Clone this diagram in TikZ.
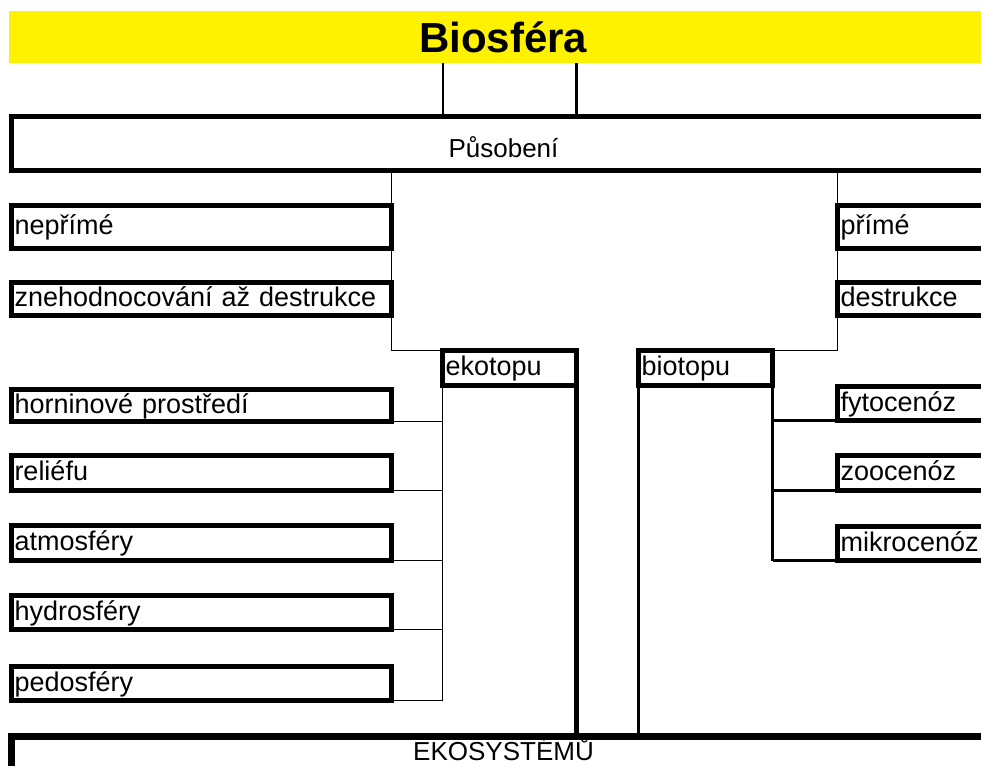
\documentclass[tikz,border=0pt]{standalone}
\usepackage{fontspec}
\setmainfont{Liberation Sans}

\begin{document}
\begin{tikzpicture}[
    x=1pt, y=-1pt,
    box/.style={draw, line width=5pt, outer sep=0pt, inner xsep=3pt, inner ysep=0pt,
      anchor=north west, text height=20pt, text depth=5pt,
      font=\fontsize{27}{30}\selectfont},
    leaf/.style={box, text width=374pt, align=left, minimum height=#1},
    twig/.style={box, text width=294pt, align=left, minimum height=#1},
    cell/.style={box, line width=4.5pt, text width=128pt, align=left, minimum height=35pt},
    wire/.style={line width=1.5pt},
    heavy/.style={line width=2.5pt}
  ]
  \useasboundingbox (0,0) rectangle (981,765);
  \clip (0,0) rectangle (981,765);

  \node (title) [fill=yellow, anchor=north west, minimum width=988pt, minimum height=52pt,
    inner sep=0pt, font=\fontsize{42}{46}\selectfont\bfseries] at (9,11) {Biosféra};
  \node (pusobeni) [box, minimum width=984pt, minimum height=54pt, text height=30pt,
    text depth=3pt, font=\fontsize{26}{30}\selectfont] at (11.5,116.5) {Působení};

  \node (neprime) [leaf=43pt] at (11.5,205.5) {nepřímé};
  \node (znehod) [leaf=33pt] at (11.5,282.5) {znehodnocování až destrukce};
  \node (horninove) [leaf=32pt] at (11.5,389.5) {horninové prostředí};
  \node (reliefu) [leaf=35pt] at (11.5,455.5) {reliéfu};
  \node (atmosfery) [leaf=35pt] at (11.5,525.5) {atmosféry};
  \node (hydrosfery) [leaf=34pt] at (11.5,595.5) {hydrosféry};
  \node (pedosfery) [leaf=34pt] at (11.5,666.5) {pedosféry};

  \node (prime) [twig=43pt] at (837.5,205.5) {přímé};
  \node (destrukce) [twig=33pt] at (837.5,282.5) {destrukce};
  \node (fytocenoz) [twig=34pt] at (837.5,386.5) {fytocenóz};
  \node (zoocenoz) [twig=35pt] at (837.5,455.5) {zoocenóz};
  \node (mikrocenoz) [twig=34pt] at (837.5,526.5) {mikrocenóz};

  \node (ekotopu) [cell] at (442.5,350.5) {ekotopu};
  \node (biotopu) [cell] at (638.5,350.5) {biotopu};

  \node (ekosystemu) [box, line width=7pt, minimum width=984pt, minimum height=44pt,
    text height=8pt, text depth=4pt, font=\fontsize{26}{30}\selectfont] at (11.5,736) {EKOSYSTÉMŮ};

  \draw[line width=2pt] (ekotopu.north west |- title.south) -- (ekotopu.north west |- pusobeni.north);
  \draw[line width=3pt] (ekotopu.north east |- title.south) -- (ekotopu.north east |- pusobeni.north);

  \draw[wire] (pusobeni.south -| neprime.east) |- (ekotopu.north west);
  \draw[wire] (pusobeni.south -| prime.west) |- (biotopu.north east);

  \draw[wire] (ekotopu.south west) -- (ekotopu.south west |- pedosfery.south east);
  \foreach \n in {horninove, reliefu, atmosfery, hydrosfery, pedosfery}
    \draw[wire] (\n.south east) -- (\n.south east -| ekotopu.west);
  \draw[line width=4.5pt] (ekotopu.south east) -- (ekotopu.south east |- ekosystemu.north);

  \draw[line width=3pt] (biotopu.south west) -- (biotopu.south west |- ekosystemu.north);
  \draw[heavy] (biotopu.south east) -- (biotopu.south east |- mikrocenoz.south west);
  \foreach \n in {fytocenoz, zoocenoz, mikrocenoz}
    \draw[heavy] (\n.south west) -- (\n.south west -| biotopu.east);
\end{tikzpicture}
\end{document}
